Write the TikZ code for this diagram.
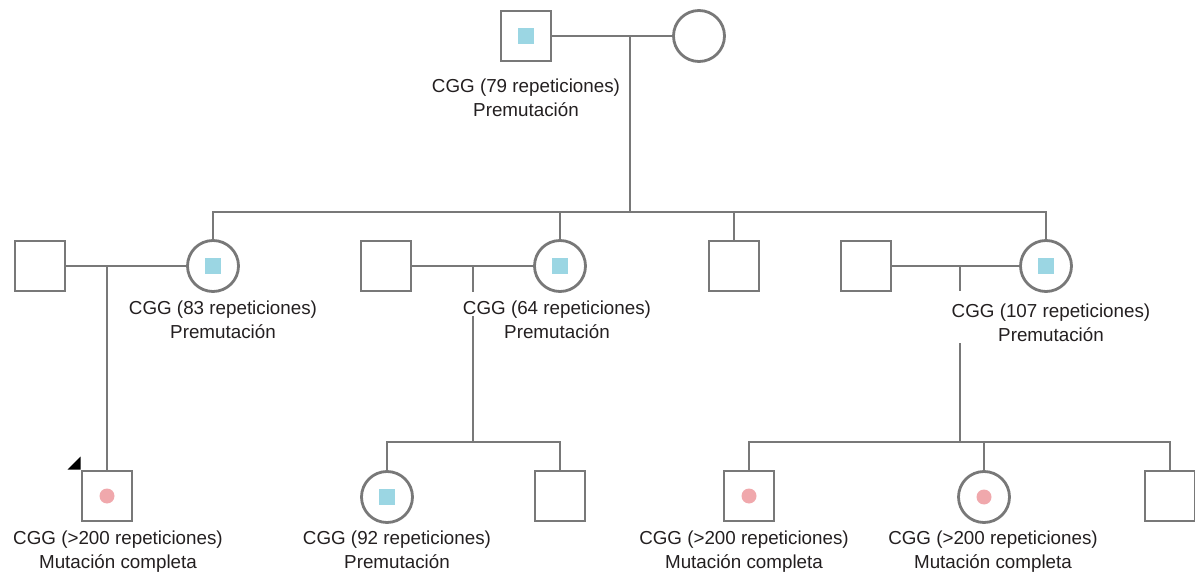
\documentclass[tikz,border=0pt]{standalone}
\usepackage{fontspec}
\setmainfont{Liberation Sans}
\usetikzlibrary{calc}
\definecolor{pedline}{RGB}{120,120,120}
\definecolor{premblue}{RGB}{155,214,227}
\definecolor{fullpink}{RGB}{240,168,172}
\definecolor{labtext}{RGB}{35,31,32}

\begin{document}
\begin{tikzpicture}[x=1pt, y=-1pt,
		male/.style={draw=pedline, line width=2.8pt, rectangle, minimum size=50pt, inner sep=0pt},
		female/.style={draw=pedline, line width=2.8pt, circle, minimum size=51pt, inner sep=0pt},
		prem/.style={path picture={\fill[premblue] ([xshift=-8pt,yshift=-8pt]path picture bounding box.center) rectangle ([xshift=8pt,yshift=8pt]path picture bounding box.center);}},
		full/.style={path picture={\fill[fullpink] (path picture bounding box.center) circle (7.5pt);}},
		lab/.style={font=\fontsize{18.8}{24}\selectfont, text=labtext, align=center, inner sep=1pt, anchor=north},
		link/.style={draw=pedline, line width=2.8pt}]
			\useasboundingbox (0,0) rectangle (1195,572);
			
			% Define nodes
			\node[male, prem] (gf) at (526,36) {};           % Grandfather
			\node[female] (gm) at (699,36) {};               % Grandmother
			\node[male] (h1) at (40,266) {};
			\node[female, prem] (w1) at (213,266) {};
			\node[male] (h2) at (386,266) {};
			\node[female, prem] (w2) at (560,266) {};
			\node[male] (c3) at (734,266) {};
			\node[male] (h4) at (866,266) {};
			\node[female, prem] (w4) at (1046,266) {};
			\node[male, full] (g1) at (107,496) {};          % Proband
			\node[female, prem] (d1) at (387,497) {};
			\node[male] (d2) at (560,496) {};
			\node[male, full] (e1) at (749,496) {};
			\node[female, full] (e2) at (984,497) {};
			\node[male] (e3) at (1170,496) {};
			
			% Junctions
			\coordinate (m1) at (630,36);
			\coordinate (sb1) at (630,212);
			\coordinate (j1) at (107,266);
			\coordinate (j2) at (473,266);
			\coordinate (j4) at (960,266);
			\coordinate (sb2) at (473,442);
			\coordinate (sb4) at (960,442);
			
			% Labels
			\node[lab] (t0) at (526,78) {CGG (79 repeticiones)\\Premutación};
			\node[lab] (t1) at (223,300) {CGG (83 repeticiones)\\Premutación};
			\node[lab] (t2) at (557,300) {CGG (64 repeticiones)\\Premutación};
			\node[lab] (t4) at (1051,303) {CGG (107 repeticiones)\\Premutación};
			\node[lab] (tg1) at (118,530) {CGG (>200 repeticiones)\\Mutación completa};
			\node[lab] (td1) at (397,530) {CGG (92 repeticiones)\\Premutación};
			\node[lab] (te1) at (744,530) {CGG (>200 repeticiones)\\Mutación completa};
			\node[lab] (te2) at (993,530) {CGG (>200 repeticiones)\\Mutación completa};
			
			% Couples
			\draw[link] (gf) -- (gm);
			\draw[link] (h1) -- (w1);
			\draw[link] (h2) -- (w2);
			\draw[link] (h4) -- (w4);
			
			% First sibship
			\draw[link] (m1) -- (sb1);
			\draw[link] (w1.north) -- (w1.north |- sb1) -- (w4.north |- sb1) -- (w4.north);
			\draw[link] (w2.north) -- (w2.north |- sb1);
			\draw[link] (c3.north) -- (c3.north |- sb1);
			
			% Descent lines
			\draw[link] (j1) -- (g1);
			\draw[link] (j2) -- ($(j2 |- t2.north)+(0,-8)$);
			\draw[link] ($(j2 |- t2.center)+(0,-4)$) -- (sb2);
			\draw[link] (j4) -- ($(j4 |- t4.north)+(0,-12)$);
			\draw[link] (j4 |- t4.south) -- (sb4);
			
			% Third generation
			\draw[link] (d1.north) -- (d1.north |- sb2) -- (d2.north |- sb2) -- (d2.north);
			\draw[link] (e1.north) -- (e1.north |- sb4) -- (e3.north |- sb4) -- (e3.north);
			\draw[link] (e2.north) -- (e2.north |- sb4);
			
			% Proband mark
			\fill[black] (g1.north west) -- ++(-13,0) -- ++(13,-13) -- cycle;
		\end{tikzpicture}
\end{document}
